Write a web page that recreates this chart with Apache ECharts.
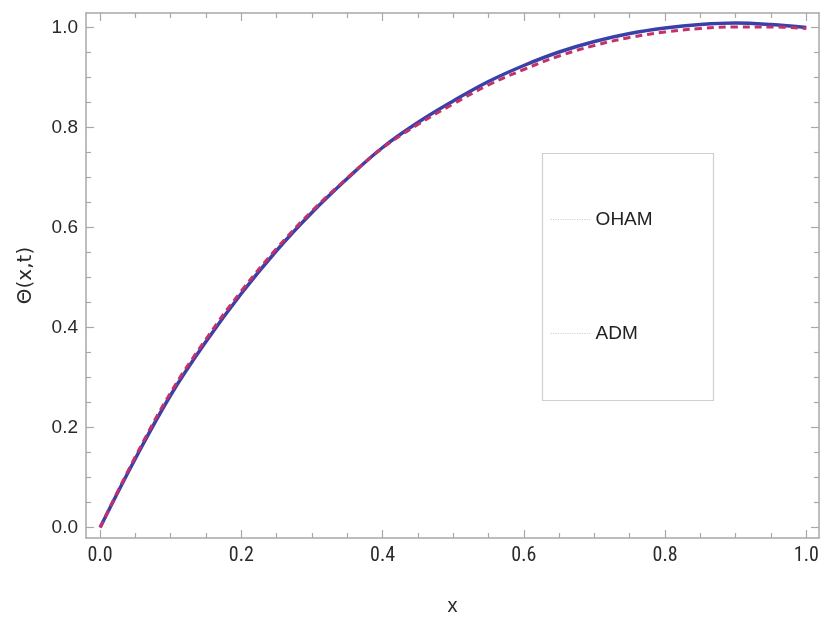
<!DOCTYPE html>
<html>
<head>
<meta charset="utf-8">
<script src="https://cdn.jsdelivr.net/npm/echarts@6/dist/echarts.min.js"></script>
<style>
html,body{margin:0;padding:0;background:#fff;overflow:hidden;}
#main{width:820px;height:621px;}
</style>
</head>
<body>
<div id="main"></div>
<script>
// ---- data ----
const xValues = [0, 0.05, 0.1, 0.15, 0.2, 0.25, 0.3, 0.35, 0.4, 0.45, 0.5, 0.55, 0.6, 0.65, 0.7, 0.75, 0.8, 0.85, 0.9, 0.95, 1.0];
const ohamValues = [0, 0.138, 0.265, 0.372, 0.468, 0.554, 0.63, 0.698, 0.76, 0.81, 0.853, 0.892, 0.924, 0.951, 0.972, 0.988, 0.999, 1.006, 1.009, 1.006, 1.0];
const admValues  = [0, 0.142, 0.27, 0.377, 0.473, 0.558, 0.633, 0.699, 0.759, 0.806, 0.847, 0.885, 0.916, 0.943, 0.964, 0.98, 0.991, 0.998, 1.001, 1.001, 0.998];
const seriesNames = ['OHAM', 'ADM'];
const xMajorTicks = [0, 0.2, 0.4, 0.6, 0.8, 1.0];
const xMinorTicks = [0.05, 0.1, 0.15, 0.25, 0.3, 0.35, 0.45, 0.5, 0.55, 0.65, 0.7, 0.75, 0.85, 0.9, 0.95];
const yMajorTicks = [0, 0.2, 0.4, 0.6, 0.8, 1.0];
const yMinorTicks = [0.05, 0.1, 0.15, 0.25, 0.3, 0.35, 0.45, 0.5, 0.55, 0.65, 0.7, 0.75, 0.85, 0.9, 0.95];

const chart = echarts.init(document.getElementById('main'), null, {renderer: 'canvas', width: 820, height: 621});

const axisColor = '#a8a8a8';
const X_MIN = -0.02, X_MAX = 1.018, Y_MIN = -0.021, Y_MAX = 1.029;

function mkX(position, ticks, len, showLine, labels, name) {
  return {
    type: 'value', position: position, min: X_MIN, max: X_MAX,
    splitLine: {show: false},
    axisLine: {show: showLine, onZero: false, lineStyle: {color: axisColor, width: 1.5}},
    axisTick: {show: true, inside: true, length: len, customValues: ticks, lineStyle: {color: axisColor, width: 1.2}},
    axisLabel: labels ? {show: true, customValues: ticks, margin: 8, color: '#2a2a2a',
      fontFamily: '"Liberation Sans Narrow","Roboto Condensed","DejaVu Sans Condensed","Liberation Sans",sans-serif', fontSize: 20,
      formatter: v => v.toFixed(1)} : {show: false},
    name: name || '', nameLocation: 'middle', nameGap: 58,
    nameTextStyle: {color: '#2a2a2a', fontSize: 20, fontFamily: '"Liberation Sans",sans-serif'}
  };
}
function mkY(position, ticks, len, showLine, labels, name) {
  return {
    type: 'value', position: position, min: Y_MIN, max: Y_MAX,
    splitLine: {show: false},
    axisLine: {show: showLine, onZero: false, lineStyle: {color: axisColor, width: 1.5}},
    axisTick: {show: true, inside: true, length: len, customValues: ticks, lineStyle: {color: axisColor, width: 1.2}},
    axisLabel: labels ? {show: true, customValues: ticks, margin: 8, color: '#2a2a2a',
      fontFamily: '"Liberation Sans",sans-serif', fontSize: 19,
      formatter: v => v.toFixed(1)} : {show: false},
    name: name || '', nameLocation: 'middle', nameGap: 50,
    nameTextStyle: {color: '#2a2a2a', fontSize: 20, fontFamily: '"DejaVu Sans",sans-serif'}
  };
}

const option = {
  backgroundColor: '#fff',
  animation: false,
  grid: {left: 86, right: 1, top: 13, bottom: 83, containLabel: false, outerBoundsMode: 'none'},
  xAxis: [
    mkX('bottom', xMajorTicks, 8, true, true, 'x'),
    mkX('bottom', xMinorTicks, 5, false, false),
    mkX('top', xMajorTicks, 8, true, false),
    mkX('top', xMinorTicks, 5, false, false)
  ],
  yAxis: [
    mkY('left', yMajorTicks, 8, true, true, 'Θ(x,t)'),
    mkY('left', yMinorTicks, 5, false, false),
    mkY('right', yMajorTicks, 8, true, false),
    mkY('right', yMinorTicks, 5, false, false)
  ],
  legend: {
    orient: 'vertical', left: 545, top: 205,
    itemWidth: 40, itemHeight: 14, itemGap: 95,
    textStyle: {color: '#222', fontSize: 19, fontFamily: '"Liberation Sans",sans-serif'},
    itemStyle: {opacity: 0},
    lineStyle: {color: '#d0d0d0', width: 1.2, type: 'dotted'},
    data: seriesNames
  },
  graphic: [{
    type: 'rect', left: 540, top: 151, silent: true,
    shape: {width: 171, height: 247},
    style: {fill: 'none', stroke: '#cfcfcf', lineWidth: 1.2}
  }],
  series: [
    {
      name: seriesNames[0], type: 'line', xAxisIndex: 0, yAxisIndex: 0,
      data: xValues.map((x, i) => [x, ohamValues[i]]),
      smooth: 0.4, showSymbol: false, symbol: 'none',
      lineStyle: {color: '#3b40a8', width: 3.5, type: 'solid'},
      itemStyle: {color: '#3b40a8'}
    },
    {
      name: seriesNames[1], type: 'line', xAxisIndex: 0, yAxisIndex: 0,
      data: xValues.map((x, i) => [x, admValues[i]]),
      smooth: 0.4, showSymbol: false, symbol: 'none',
      lineStyle: {color: '#c4306a', width: 3, type: [7, 5]},
      itemStyle: {color: '#c4306a'}
    }
  ]
};
chart.setOption(option);
</script>
</body>
</html>
